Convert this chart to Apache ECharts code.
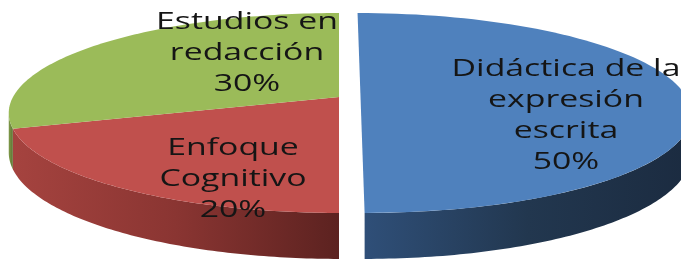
<!DOCTYPE html>
<html lang="es">
<head>
    <meta charset="UTF-8">
    <title>Pie 3D</title>
    <script src="https://cdn.jsdelivr.net/npm/echarts@6.0.0/dist/echarts.min.js"></script>
    <style>
        html, body { margin: 0; padding: 0; background: #fff; }
        #chart { width: 681px; height: 259px; }
    </style>
</head>
<body>
    <div id="chart"></div>
    <script>
        // datos
        const categories = ['Didáctica de la expresión escrita', 'Enfoque Cognitivo', 'Estudios en redacción'];
        const labelLines = [['Didáctica de la', 'expresión', 'escrita'], ['Enfoque', 'Cognitivo'], ['Estudios en', 'redacción']];
        const values = [50, 20, 30];

        // colores (cara superior y lateral)
        const topColors = ['#4F81BD', '#C0504D', '#9BBB59'];
        const sideColors = [
            ['#2f4f78', '#22374f', '#1b2b40'],
            ['#a5433f', '#8a3532', '#5c2220'],
            ['#7f9a48', '#6f873e', '#5f7435']
        ];
        // centro de cada etiqueta (px)
        const labelPos = [[566, 116], [233, 179], [247, 53]];

        // geometría del pastel en perspectiva
        const CX = 339, CY = 97;
        const A = 326, B = 97.4, K = 0.16;
        const DEPTH = 38.6;
        const EXPLODE = 0, EXPLODE_DIST = 0.066;
        const STEPS = 90;
        // parte visible del lateral (silueta en perspectiva)
        const SIDE_FROM = Math.acos(-K), SIDE_TO = 2 * Math.PI - Math.acos(-K);

        const total = values.reduce((s, v) => s + v, 0);

        function renderItem(params, api) {
            const i = params.dataIndex;
            let before = 0;
            for (let k = 0; k < i; k++) before += values[k];
            const a1 = before / total * 2 * Math.PI;
            const a2 = (before + api.value(0)) / total * 2 * Math.PI;
            const mid = (a1 + a2) / 2;
            const e = i === EXPLODE ? EXPLODE_DIST : 0;
            const du = e * Math.sin(mid), dv = -e * Math.cos(mid);

            function pt(r, phi, drop) {
                const u = r * Math.sin(phi) + du;
                const v = -r * Math.cos(phi) + dv;
                const f = 1 / (1 - K * v);
                return [CX + A * u * f, CY + B * v * f + (drop ? DEPTH * f : 0)];
            }

            const children = [];

            // lateral visible
            const s1 = Math.max(a1, SIDE_FROM), s2 = Math.min(a2, SIDE_TO);
            if (s2 > s1) {
                const upper = [], lower = [];
                for (let s = 0; s <= STEPS; s++) {
                    const phi = s1 + (s2 - s1) * s / STEPS;
                    upper.push(pt(1, phi, false));
                    lower.push(pt(1, phi, true));
                }
                const c = sideColors[i];
                children.push({
                    type: 'polygon',
                    shape: { points: upper.concat(lower.reverse()) },
                    style: {
                        fill: new echarts.graphic.LinearGradient(0, 0, 1, 0, [
                            { offset: 0, color: c[0] },
                            { offset: 0.5, color: c[1] },
                            { offset: 1, color: c[2] }
                        ])
                    },
                    z2: 1
                });
            }

            // cara superior
            const topPts = [pt(0, mid, false)];
            for (let s = 0; s <= STEPS; s++) {
                topPts.push(pt(1, a1 + (a2 - a1) * s / STEPS, false));
            }
            children.push({
                type: 'polygon',
                shape: { points: topPts },
                style: { fill: topColors[i] },
                z2: 2
            });

            // etiqueta (el original está estirado en horizontal)
            const pct = Math.round(api.value(0) / total * 100) + '%';
            children.push({
                type: 'text',
                x: labelPos[i][0],
                y: labelPos[i][1],
                scaleX: 1.47,
                style: {
                    text: labelLines[i].concat([pct]).join('\n'),
                    fill: '#151515',
                    fontSize: 23,
                    fontFamily: 'Open Sans',
                    lineHeight: 31,
                    align: 'center',
                    verticalAlign: 'middle'
                },
                z2: 3
            });

            return { type: 'group', children: children };
        }

        const chart = echarts.init(document.getElementById('chart'));
        chart.setOption({
            animation: false,
            series: [{
                type: 'custom',
                coordinateSystem: 'none',
                renderItem: renderItem,
                data: values.map((v, i) => ({ name: categories[i], value: v }))
            }]
        });
    </script>
</body>
</html>
